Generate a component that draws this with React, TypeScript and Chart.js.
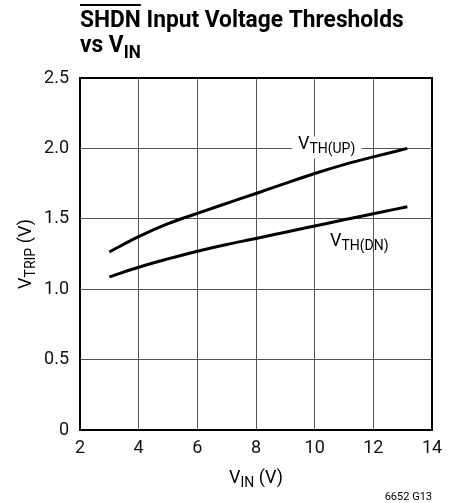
import React, { useEffect, useRef } from "react";
import { Chart, registerables } from "chart.js";

Chart.register(...registerables);

const FONT = "'Liberation Sans Narrow', 'Roboto', 'Liberation Sans', sans-serif";

const V_IN = [3, 4, 5, 6, 7, 8, 9, 10, 11, 12, 13.16];
const VTH_UP = [1.265, 1.373, 1.465, 1.539, 1.61, 1.68, 1.752, 1.822, 1.885, 1.94, 2.0];
const VTH_DN = [1.087, 1.156, 1.215, 1.27, 1.318, 1.36, 1.405, 1.449, 1.493, 1.536, 1.586];

const X_TICKS = [2, 4, 6, 8, 10, 12, 14];
const Y_TICKS = [0, 0.5, 1.0, 1.5, 2.0, 2.5];
const Y_TICK_LABELS = ["0", "0.5", "1.0", "1.5", "2.0", "2.5"];

const TITLE_OVER = "SHDN";
const TITLE_REST = " Input Voltage Thresholds";
const TITLE_LINE2 = "vs V";
const TITLE_LINE2_SUB = "IN";
const LABEL_UP = ["V", "TH(UP)"];
const LABEL_DN = ["V", "TH(DN)"];
const LABEL_UP_POS = { x: 9.43, y: 2.0 };
const LABEL_DN_POS = { x: 10.52, y: 1.307 };
const X_TITLE = ["V", "IN", " (V)"];
const Y_TITLE = ["V", "TRIP", " (V)"];
const FOOT = "6652 G13";

function drawSub(
  ctx: CanvasRenderingContext2D,
  x: number,
  y: number,
  parts: string[],
  mainFont: string,
  subFont: string,
  dy: number,
  measureOnly = false
): number {
  let cx = x;
  parts.forEach((p, i) => {
    const isSub = i === 1;
    ctx.font = isSub ? subFont : mainFont;
    if (!measureOnly) ctx.fillText(p, cx, isSub ? y + dy : y);
    cx += ctx.measureText(p).width;
  });
  return cx - x;
}

const textPlugin = {
  id: "customTexts",
  afterDraw(chart: any) {
    const ctx: CanvasRenderingContext2D = chart.ctx;
    const { left, right, top, bottom } = chart.chartArea;
    const xs = chart.scales.x;
    const ys = chart.scales.y;
    ctx.save();
    ctx.strokeStyle = "#000";
    ctx.lineWidth = 2;
    ctx.strokeRect(left, top, right - left, bottom - top);

    ctx.fillStyle = "#000";
    ctx.textAlign = "left";
    ctx.textBaseline = "alphabetic";
    // title (slightly condensed)
    ctx.save();
    ctx.translate(left, 0);
    ctx.scale(0.947, 1);
    ctx.font = `bold 24px ${FONT}`;
    ctx.fillText(TITLE_OVER + TITLE_REST, 0, 27);
    const ow = ctx.measureText(TITLE_OVER).width;
    ctx.fillRect(0, 4, ow, 2);
    drawSub(ctx, 0, 52, [TITLE_LINE2, TITLE_LINE2_SUB], `bold 24px ${FONT}`, `bold 18px ${FONT}`, 6);
    ctx.restore();

    const mainF = `18px ${FONT}`;
    const subF = `14px ${FONT}`;
    // VTH(UP) label with white box
    const ux = xs.getPixelForValue(LABEL_UP_POS.x);
    const uy = ys.getPixelForValue(LABEL_UP_POS.y);
    const uw = drawSub(ctx, ux, 0, LABEL_UP, mainF, subF, 4, true);
    ctx.fillStyle = "#fff";
    ctx.fillRect(ux - 6, uy - 12, uw + 12, 22);
    ctx.fillStyle = "#000";
    drawSub(ctx, ux, uy + 1, LABEL_UP, mainF, subF, 4);

    const dx = xs.getPixelForValue(LABEL_DN_POS.x);
    const dyy = ys.getPixelForValue(LABEL_DN_POS.y);
    drawSub(ctx, dx, dyy, LABEL_DN, mainF, subF, 4);

    // x title
    const xw = drawSub(ctx, 0, 0, X_TITLE, mainF, subF, 4, true);
    drawSub(ctx, (left + right) / 2 - xw / 2, 483, X_TITLE, mainF, subF, 4);

    // y title
    const yw = drawSub(ctx, 0, 0, Y_TITLE, mainF, subF, 4, true);
    ctx.save();
    ctx.translate(31, (top + bottom) / 2);
    ctx.rotate(-Math.PI / 2);
    drawSub(ctx, -yw / 2, 0, Y_TITLE, mainF, subF, 4);
    ctx.restore();

    // footnote
    ctx.font = `11px ${FONT}`;
    ctx.textAlign = "right";
    ctx.fillText(FOOT, right, 500);
    ctx.restore();
  },
};

export default function App() {
  const ref = useRef<HTMLCanvasElement | null>(null);
  useEffect(() => {
    if (!ref.current) return;
    const chart = new Chart(ref.current, {
      type: "line",
      data: {
        datasets: [
          {
            label: "VTH(UP)",
            data: V_IN.map((x, i) => ({ x, y: VTH_UP[i] })),
            borderColor: "#000",
            borderWidth: 3,
            pointRadius: 0,
            cubicInterpolationMode: "monotone",
            fill: false,
          },
          {
            label: "VTH(DN)",
            data: V_IN.map((x, i) => ({ x, y: VTH_DN[i] })),
            borderColor: "#000",
            borderWidth: 3,
            pointRadius: 0,
            cubicInterpolationMode: "monotone",
            fill: false,
          },
        ],
      },
      options: {
        responsive: false,
        animation: false,
        devicePixelRatio: 1,
        layout: { padding: { top: 78, right: 22, left: 0, bottom: 0 } },
        plugins: { legend: { display: false }, tooltip: { enabled: false }, title: { display: false } },
        scales: {
          x: {
            type: "linear",
            min: 2,
            max: 14,
            afterFit: (s: any) => {
              s.height = 73;
            },
            afterBuildTicks: (s: any) => {
              s.ticks = X_TICKS.map((v) => ({ value: v }));
            },
            ticks: {
              color: "#111",
              font: { family: FONT, size: 18 },
              padding: 8,
              maxRotation: 0,
              callback: (v: any) => String(v),
            },
            grid: { color: "#555", lineWidth: 1, drawTicks: false },
            border: { display: false },
          },
          y: {
            type: "linear",
            min: 0,
            max: 2.5,
            afterFit: (s: any) => {
              s.width = 80;
            },
            afterBuildTicks: (s: any) => {
              s.ticks = Y_TICKS.map((v) => ({ value: v }));
            },
            ticks: {
              color: "#111",
              font: { family: FONT, size: 18 },
              padding: 11,
              callback: (v: any) => {
                const i = Y_TICKS.indexOf(Number(v));
                return i >= 0 ? Y_TICK_LABELS[i] : "";
              },
            },
            grid: { color: "#555", lineWidth: 1, drawTicks: false },
            border: { display: false },
          },
        },
      },
      plugins: [textPlugin],
    });
    return () => chart.destroy();
  }, []);
  return (
    <div style={{ position: "absolute", left: 0, top: 0, width: 454, height: 503, background: "#fff" }}>
      <canvas ref={ref} width={454} height={503} style={{ display: "block" }} />
    </div>
  );
}
